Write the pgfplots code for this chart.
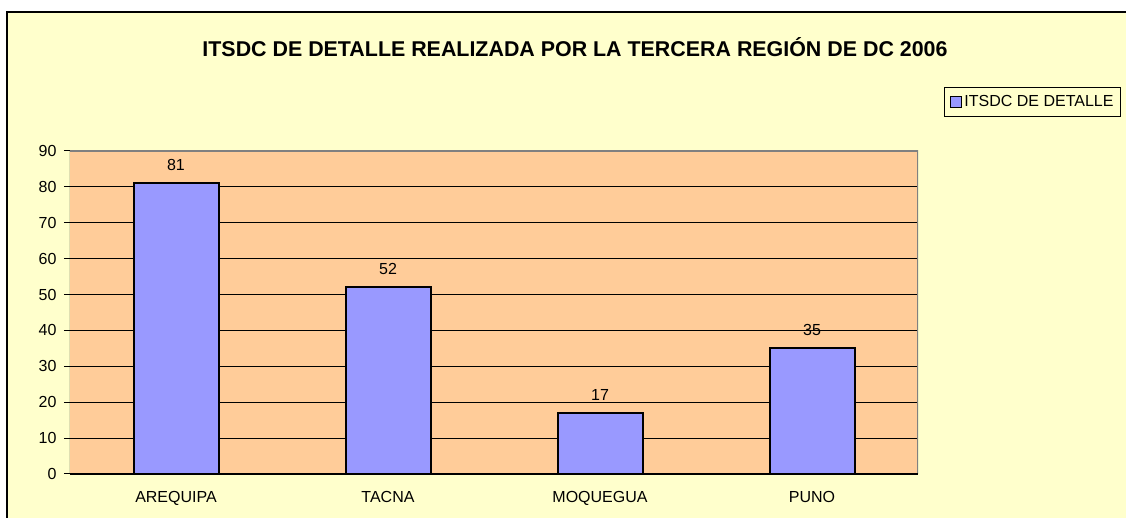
\documentclass[border=0pt]{standalone}
\usepackage{fontspec}
\setmainfont{Liberation Sans}
\usepackage{pgfplots}
\pgfplotsset{compat=1.18}
\definecolor{bg}{HTML}{FFFFCC}
\definecolor{plotbg}{HTML}{FFCC99}
\definecolor{barc}{HTML}{9999FF}
\definecolor{frame}{HTML}{808080}
\newcommand{\lblfont}{\fontsize{16pt}{19pt}\selectfont}
\begin{document}
\begin{tikzpicture}[x=1pt,y=1pt]
\useasboundingbox (0,0) rectangle (1126,518);
\fill[white] (0,0) rectangle (1126,518);
\fill[bg] (7,0) rectangle (1126,506);
\draw[black, line width=2pt] (7,0) -- (7,506) -- (1126,506);
\node[anchor=base, inner sep=0pt, font=\bfseries\fontsize{21.4pt}{25pt}\selectfont] at (575,461) {ITSDC DE DETALLE REALIZADA POR LA TERCERA REGIÓN DE DC 2006};
\begin{axis}[
  at={(70pt,44pt)}, anchor=south west,
  width=848pt, height=323pt, scale only axis,
  xmin=-0.5, xmax=3.5, ymin=0, ymax=90,
  ytick={0,10,...,90},
  xtick={0,1,2,3},
  xticklabels={AREQUIPA,TACNA,MOQUEGUA,PUNO},
  xtick style={draw=none},
  ytick pos=left,
  tick align=outside,
  major tick length=6pt,
  ytick style={black, line width=1pt},
  axis line style={draw=none},
  axis background/.style={fill=plotbg},
  ymajorgrids,
  major grid style={black, line width=0.8pt},
  /pgf/number format/assume math mode=true,
  tick label style={font=\lblfont},
  yticklabel style={xshift=-4pt},
  xticklabel style={yshift=-8pt},
  ybar, bar width=85pt,
  nodes near coords,
  nodes near coords style={anchor=center, yshift=18pt, font=\lblfont, black},
  legend style={at={(1.2394,1.1975)}, anchor=north east, draw=black, line width=1pt, fill=bg,
    font=\lblfont, inner xsep=5pt, inner ysep=5pt,
    nodes={inner xsep=2pt, inner ysep=3pt}},
  legend cell align=left,
  legend image code/.code={\draw[fill=barc, draw=black, line width=1.6pt] (0pt,-5.5pt) rectangle (11pt,5.5pt);},
]
\addplot[fill=barc, draw=black, line width=2pt] coordinates {(0,81) (1,52) (2,17) (3,35)};
\addlegendentry{ITSDC DE DETALLE}
\draw[frame, line width=2pt] (rel axis cs:0,1) -- (rel axis cs:1,1) -- (rel axis cs:1,0);
\draw[black, line width=1pt] (rel axis cs:0,1) -- (rel axis cs:0,0) -- (rel axis cs:1,0);
\draw[black, line width=1pt] (axis cs:0.5,0) -- ++(0pt,-6pt);
\draw[black, line width=1pt] (axis cs:1.5,0) -- ++(0pt,-6pt);
\draw[black, line width=1pt] (axis cs:2.5,0) -- ++(0pt,-6pt);
\draw[black, line width=1pt] (axis cs:3.5,0) -- ++(0pt,-6pt);
\end{axis}
\end{tikzpicture}
\end{document}
